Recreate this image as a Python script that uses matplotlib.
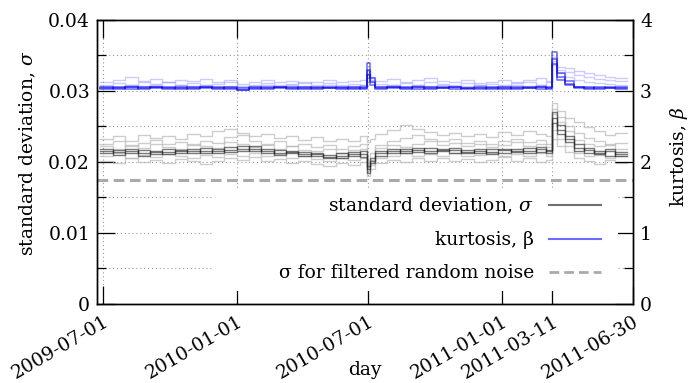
import matplotlib
matplotlib.use("Agg")
import matplotlib.pyplot as plt
from matplotlib.lines import Line2D
from matplotlib.patches import Rectangle
from matplotlib.ticker import MultipleLocator
import pandas as pd

plt.rcParams["font.family"] = ["DejaVu Serif"]
plt.rcParams["mathtext.fontset"] = "dejavuserif"
plt.rcParams["font.size"] = 13.5

# sample dates (step changes)
dates = [
    "2009-06-27", "2009-07-15", "2009-08-01", "2009-08-18", "2009-09-04", "2009-09-21",
    "2009-10-08", "2009-10-25", "2009-11-11", "2009-11-28", "2009-12-15", "2010-01-01",
    "2010-01-18", "2010-02-04", "2010-02-21", "2010-03-10", "2010-03-27", "2010-04-13",
    "2010-04-30", "2010-05-17", "2010-06-03", "2010-06-20", "2010-06-29", "2010-07-03",
    "2010-07-10", "2010-07-27", "2010-08-13", "2010-08-30", "2010-09-16", "2010-10-03",
    "2010-10-20", "2010-11-06", "2010-11-23", "2010-12-10", "2010-12-27", "2011-01-13",
    "2011-01-30", "2011-02-16", "2011-03-03", "2011-03-11", "2011-03-18", "2011-03-28",
    "2011-04-10", "2011-04-24", "2011-05-08", "2011-05-22", "2011-06-05", "2011-06-22",
]

# standard deviation, dense core
sd_core_a = [0.0215, 0.0210, 0.0218, 0.0212, 0.0216, 0.0214, 0.0217, 0.0213, 0.0215, 0.0212,
             0.0221, 0.0219, 0.0215, 0.0218, 0.0213, 0.0216, 0.0211, 0.0208, 0.0210, 0.0206,
             0.0214, 0.0211, 0.0190, 0.0198, 0.0212, 0.0216, 0.0219, 0.0214, 0.0220, 0.0215,
             0.0217, 0.0212, 0.0218, 0.0214, 0.0213, 0.0219, 0.0215, 0.0218, 0.0212, 0.0262,
             0.0245, 0.0232, 0.0220, 0.0212, 0.0216, 0.0209, 0.0214, 0.0214]
sd_core_b = [0.0219, 0.0214, 0.0213, 0.0217, 0.0211, 0.0218, 0.0212, 0.0216, 0.0220, 0.0216,
             0.0217, 0.0223, 0.0219, 0.0213, 0.0217, 0.0212, 0.0214, 0.0211, 0.0206, 0.0212,
             0.0209, 0.0215, 0.0185, 0.0205, 0.0216, 0.0212, 0.0215, 0.0220, 0.0216, 0.0219,
             0.0213, 0.0217, 0.0213, 0.0219, 0.0217, 0.0214, 0.0220, 0.0214, 0.0217, 0.0270,
             0.0252, 0.0236, 0.0225, 0.0217, 0.0211, 0.0215, 0.0208, 0.0208]
sd_core_c = [0.0212, 0.0217, 0.0215, 0.0209, 0.0214, 0.0211, 0.0215, 0.0219, 0.0212, 0.0218,
             0.0214, 0.0216, 0.0222, 0.0216, 0.0210, 0.0214, 0.0208, 0.0213, 0.0207, 0.0209,
             0.0211, 0.0207, 0.0195, 0.0201, 0.0209, 0.0219, 0.0213, 0.0217, 0.0213, 0.0217,
             0.0220, 0.0214, 0.0216, 0.0211, 0.0219, 0.0216, 0.0212, 0.0221, 0.0215, 0.0255,
             0.0240, 0.0228, 0.0216, 0.0220, 0.0213, 0.0218, 0.0211, 0.0211]

# standard deviation, faint spread
sd_light_a = [0.0232, 0.0236, 0.0230, 0.0238, 0.0234, 0.0237, 0.0233, 0.0240, 0.0236, 0.0243,
              0.0247, 0.0241, 0.0236, 0.0239, 0.0234, 0.0237, 0.0231, 0.0235, 0.0229, 0.0233,
              0.0230, 0.0236, 0.0228, 0.0232, 0.0240, 0.0245, 0.0252, 0.0247, 0.0242, 0.0238,
              0.0241, 0.0236, 0.0239, 0.0235, 0.0242, 0.0238, 0.0244, 0.0240, 0.0236, 0.0283,
              0.0272, 0.0262, 0.0256, 0.0249, 0.0243, 0.0238, 0.0241, 0.0241]
sd_light_b = [0.0225, 0.0229, 0.0223, 0.0227, 0.0231, 0.0225, 0.0228, 0.0224, 0.0230, 0.0227,
              0.0235, 0.0238, 0.0230, 0.0226, 0.0229, 0.0223, 0.0226, 0.0221, 0.0224, 0.0219,
              0.0222, 0.0226, 0.0200, 0.0212, 0.0224, 0.0230, 0.0234, 0.0238, 0.0233, 0.0229,
              0.0232, 0.0227, 0.0230, 0.0226, 0.0229, 0.0233, 0.0228, 0.0231, 0.0226, 0.0275,
              0.0263, 0.0250, 0.0241, 0.0234, 0.0229, 0.0224, 0.0227, 0.0227]
sd_light_c = [0.0202, 0.0198, 0.0205, 0.0200, 0.0203, 0.0199, 0.0204, 0.0201, 0.0197, 0.0202,
              0.0206, 0.0203, 0.0207, 0.0201, 0.0204, 0.0199, 0.0202, 0.0197, 0.0195, 0.0199,
              0.0196, 0.0200, 0.0180, 0.0190, 0.0198, 0.0203, 0.0200, 0.0205, 0.0202, 0.0206,
              0.0201, 0.0204, 0.0200, 0.0203, 0.0207, 0.0202, 0.0205, 0.0200, 0.0203, 0.0232,
              0.0222, 0.0214, 0.0206, 0.0201, 0.0197, 0.0203, 0.0199, 0.0199]
sd_light_d = [0.0222, 0.0218, 0.0224, 0.0220, 0.0226, 0.0221, 0.0219, 0.0225, 0.0222, 0.0220,
              0.0228, 0.0225, 0.0221, 0.0224, 0.0219, 0.0222, 0.0217, 0.0215, 0.0218, 0.0213,
              0.0217, 0.0219, 0.0193, 0.0203, 0.0220, 0.0224, 0.0221, 0.0226, 0.0229, 0.0224,
              0.0227, 0.0222, 0.0225, 0.0221, 0.0224, 0.0228, 0.0223, 0.0226, 0.0221, 0.0268,
              0.0256, 0.0243, 0.0231, 0.0226, 0.0222, 0.0226, 0.0219, 0.0219]
sd_light_e = [0.0208, 0.0212, 0.0206, 0.0210, 0.0207, 0.0211, 0.0208, 0.0206, 0.0210, 0.0207,
              0.0211, 0.0209, 0.0213, 0.0208, 0.0211, 0.0206, 0.0209, 0.0204, 0.0202, 0.0205,
              0.0203, 0.0206, 0.0187, 0.0196, 0.0206, 0.0209, 0.0212, 0.0208, 0.0211, 0.0209,
              0.0212, 0.0208, 0.0210, 0.0213, 0.0209, 0.0211, 0.0208, 0.0212, 0.0209, 0.0245,
              0.0233, 0.0222, 0.0212, 0.0208, 0.0210, 0.0206, 0.0209, 0.0209]

# kurtosis, dense core
kt_core_a = [3.05, 3.03, 3.06, 3.04, 3.05, 3.03, 3.05, 3.04, 3.06, 3.03,
             3.04, 3.02, 3.05, 3.04, 3.06, 3.03, 3.05, 3.04, 3.05, 3.03,
             3.04, 3.05, 3.30, 3.12, 3.04, 3.05, 3.03, 3.06, 3.04, 3.05,
             3.03, 3.04, 3.05, 3.03, 3.04, 3.05, 3.04, 3.06, 3.04, 3.45,
             3.20, 3.10, 3.06, 3.04, 3.05, 3.04, 3.03, 3.03]
kt_core_b = [3.04, 3.05, 3.03, 3.05, 3.04, 3.06, 3.03, 3.05, 3.04, 3.05,
             3.03, 3.04, 3.03, 3.05, 3.04, 3.05, 3.03, 3.05, 3.04, 3.04,
             3.05, 3.03, 3.40, 3.18, 3.05, 3.04, 3.05, 3.03, 3.05, 3.04,
             3.06, 3.03, 3.04, 3.05, 3.03, 3.04, 3.05, 3.03, 3.05, 3.55,
             3.26, 3.14, 3.05, 3.03, 3.04, 3.05, 3.04, 3.04]
kt_core_c = [3.03, 3.04, 3.05, 3.03, 3.06, 3.04, 3.04, 3.03, 3.05, 3.04,
             3.05, 3.01, 3.04, 3.03, 3.05, 3.04, 3.04, 3.03, 3.04, 3.05,
             3.03, 3.04, 3.22, 3.08, 3.03, 3.05, 3.04, 3.05, 3.03, 3.04,
             3.05, 3.04, 3.03, 3.04, 3.05, 3.03, 3.04, 3.05, 3.03, 3.38,
             3.16, 3.08, 3.04, 3.05, 3.03, 3.04, 3.05, 3.05]

# kurtosis, faint spread
kt_light_a = [3.12, 3.16, 3.20, 3.14, 3.17, 3.13, 3.16, 3.14, 3.17, 3.12,
              3.15, 3.10, 3.13, 3.16, 3.12, 3.14, 3.11, 3.13, 3.15, 3.12,
              3.14, 3.16, 3.25, 3.20, 3.14, 3.17, 3.13, 3.15, 3.18, 3.14,
              3.12, 3.15, 3.11, 3.13, 3.16, 3.12, 3.15, 3.18, 3.14, 3.48,
              3.34, 3.33, 3.28, 3.25, 3.22, 3.20, 3.18, 3.18]
kt_light_b = [3.09, 3.11, 3.08, 3.12, 3.10, 3.13, 3.09, 3.11, 3.08, 3.10,
              3.12, 3.07, 3.09, 3.11, 3.08, 3.10, 3.12, 3.09, 3.11, 3.08,
              3.10, 3.09, 3.28, 3.16, 3.10, 3.08, 3.11, 3.09, 3.12, 3.10,
              3.08, 3.11, 3.09, 3.10, 3.08, 3.11, 3.13, 3.09, 3.12, 3.42,
              3.30, 3.27, 3.22, 3.20, 3.17, 3.15, 3.14, 3.14]
kt_light_c = [3.07, 3.06, 3.09, 3.07, 3.08, 3.06, 3.08, 3.07, 3.09, 3.06,
              3.07, 3.05, 3.07, 3.08, 3.06, 3.08, 3.07, 3.06, 3.08, 3.06,
              3.07, 3.08, 3.20, 3.12, 3.07, 3.09, 3.06, 3.08, 3.07, 3.09,
              3.06, 3.07, 3.08, 3.06, 3.07, 3.09, 3.07, 3.08, 3.06, 3.36,
              3.25, 3.20, 3.16, 3.13, 3.11, 3.10, 3.09, 3.09]

noise_sigma = 0.0175

tick_dates = ["2009-07-01", "2010-01-01", "2010-07-01", "2011-01-01", "2011-03-11", "2011-06-30"]


def main():
    x = pd.to_datetime(dates)

    fig = plt.figure(figsize=(6.91, 3.83), dpi=100)
    ax = fig.add_axes([0.1404, 0.2063, 0.7756, 0.7415])
    ax2 = ax.twinx()

    grid_kw = dict(color="#9a9a9a", linestyle=(0, (1, 2.5)), linewidth=0.8)
    ax.grid(True, which="both", axis="y", **grid_kw)
    ax.grid(True, which="major", axis="x", **grid_kw)
    ax.set_axisbelow(True)

    for s in [sd_light_a, sd_light_b, sd_light_c, sd_light_d, sd_light_e]:
        ax.plot(x, s, drawstyle="steps-post", color="#b9b9b9", alpha=0.7, linewidth=1.0)
    for s in [sd_core_a, sd_core_b, sd_core_c]:
        ax.plot(x, s, drawstyle="steps-post", color="#222222", alpha=0.6, linewidth=1.0)
    ax.axhline(noise_sigma, color="#aaaaaa", linewidth=2.2, dashes=(3.5, 1.8))

    for s in [kt_light_a, kt_light_b, kt_light_c]:
        ax2.plot(x, s, drawstyle="steps-post", color="#8080ff", alpha=0.4, linewidth=1.0)
    for s in [kt_core_a, kt_core_b, kt_core_c]:
        ax2.plot(x, s, drawstyle="steps-post", color="#0000ee", alpha=0.6, linewidth=1.1)

    ax.set_xlim(pd.Timestamp("2009-06-23"), pd.Timestamp("2011-06-30"))
    ax.set_ylim(0, 0.04)
    ax2.set_ylim(0, 4)

    ax.set_yticks([0, 0.01, 0.02, 0.03, 0.04])
    ax.set_yticklabels(["0", "0.01", "0.02", "0.03", "0.04"])
    ax.yaxis.set_minor_locator(MultipleLocator(0.005))
    ax2.set_yticks([0, 1, 2, 3, 4])
    ax2.set_yticklabels(["0", "1", "2", "3", "4"])
    ax2.yaxis.set_minor_locator(MultipleLocator(0.5))

    ax.set_xticks(pd.to_datetime(tick_dates))
    ax.set_xticklabels(tick_dates, rotation=30, ha="right", rotation_mode="anchor")

    ax.tick_params(axis="x", which="major", direction="in", length=13, width=0.9,
                   top=True, pad=6)
    ax.tick_params(axis="y", which="major", direction="in", length=13, width=0.9, pad=5)
    ax.tick_params(axis="y", which="minor", direction="in", length=6.5, width=0.9)
    ax2.tick_params(axis="y", which="major", direction="in", length=13, width=0.9, pad=5)
    ax2.tick_params(axis="y", which="minor", direction="in", length=6.5, width=0.9)

    for a in (ax, ax2):
        for sp in a.spines.values():
            sp.set_linewidth(1.0)

    ax.set_xlabel("day")
    ax.xaxis.set_label_coords(0.5, -0.2)
    ax.set_ylabel(r"standard deviation, $\sigma$")
    ax.yaxis.set_label_coords(-0.11, 0.53)
    ax2.set_ylabel(r"kurtosis, $\beta$")
    ax2.yaxis.set_label_coords(1.066, 0.52)

    # white key box hides the grid behind the legend
    ax2.add_patch(Rectangle((0.216, 0.045), 0.756, 0.355, transform=ax2.transAxes,
                            facecolor="white", edgecolor="none", zorder=4))

    handles = [
        Line2D([], [], color="#707070", linewidth=1.5),
        Line2D([], [], color="#6b6bff", linewidth=1.5),
        Line2D([], [], color="#aaaaaa", linewidth=2.0, dashes=(3.5, 1.8)),
    ]
    labels = [r"standard deviation, $\sigma$", "kurtosis, β", "σ for filtered random noise"]
    leg = ax2.legend(handles, labels, loc="lower right", bbox_to_anchor=(0.955, 0.05),
                     borderaxespad=0, markerfirst=False, handlelength=2.8,
                     handletextpad=0.8, labelspacing=0.8, frameon=False,
                     fontsize=13.5)
    leg.set_zorder(5)

    fig.savefig("out.png", dpi=100)
    plt.close(fig)


if __name__ == "__main__":
    main()
